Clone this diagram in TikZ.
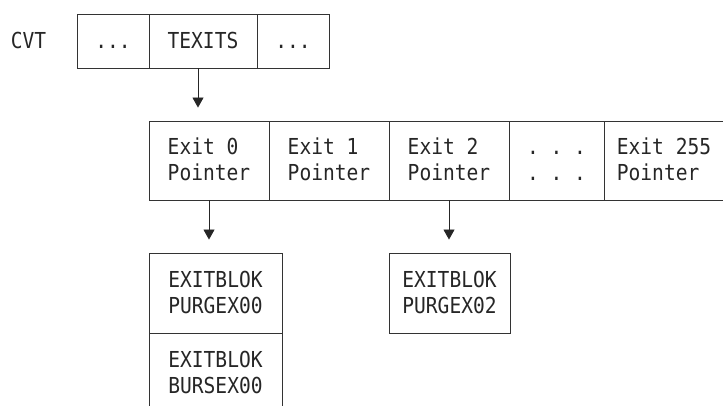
\documentclass[tikz,border=0pt]{standalone}
\usepackage{fontspec}
\newfontfamily\mono{DejaVu Sans Mono}[FakeStretch=0.89]
\usetikzlibrary{arrows.meta}
\newcommand\zs{\rule[-5.5pt]{0pt}{26pt}}
\tikzset{
  cell/.style={draw=black!80, line width=0.9pt, inner sep=0pt, align=left,
    font=\mono\fontsize{22}{26}\selectfont, text=black!85},
  one/.style={text height=15.5pt, text depth=0pt},
  lbl/.style={inner sep=0pt, font=\mono\fontsize{22}{26}\selectfont, text=black!85},
  arr/.style={draw=black!85, line width=0.9pt, -{Triangle[length=10pt,width=11pt]}, shorten >=13pt}
}
\begin{document}
\begin{tikzpicture}[x=1pt,y=-1pt]
\useasboundingbox (0,0) rectangle (723,406);
\clip (0,0) rectangle (723,406);
\fill[white] (0,0) rectangle (723,406);
% top row
\node[lbl, one] (cvt) at (28.5,41) {CVT};
\node[cell, one, minimum width=72pt, minimum height=54pt] (c1) at (113,41) {...};
\node[cell, one, minimum width=108pt, minimum height=54pt] (texits) at (203,41) {TEXITS};
\node[cell, one, minimum width=72pt, minimum height=54pt] (c3) at (293,41) {...};
% exit table
\node[cell, minimum width=120pt, minimum height=79pt] (e0) at (209,160.5) {\zs Exit 0\\\zs Pointer};
\node[cell, minimum width=120pt, minimum height=79pt] (e1) at (329,160.5) {\zs Exit 1\\\zs Pointer};
\node[cell, minimum width=120pt, minimum height=79pt] (e2) at (449,160.5) {\zs Exit 2\\\zs Pointer};
\node[cell, minimum width=95pt, minimum height=79pt] (edots) at (556.5,160.5) {\zs .~.~.\\\zs .~.~.};
\node[cell, minimum width=120pt, minimum height=79pt] (e255) at (664,160.5) {\zs Exit 255\\\zs Pointer};
% exit blocks
\node[cell, minimum width=133pt, minimum height=80pt] (b0) at (215.5,293) {\zs EXITBLOK\\\zs PURGEX00};
\node[cell, minimum width=133pt, minimum height=100pt] (b1) at (215.5,383) {};
\node[lbl, align=left] (b1t) at (215.5,372.5) {\zs EXITBLOK\\\zs BURSEX00};
\node[cell, minimum width=121pt, minimum height=80pt] (b2) at (449.5,293) {\zs EXITBLOK\\\zs PURGEX02};
% connectors
\draw[arr] ([xshift=-5pt]texits.south) -- ([xshift=-5pt]texits.south |- e0.north);
\draw[arr] (e0.south) -- (e0.south |- b0.north);
\draw[arr] (e2.south) -- (e2.south |- b2.north);
\end{tikzpicture}
\end{document}
